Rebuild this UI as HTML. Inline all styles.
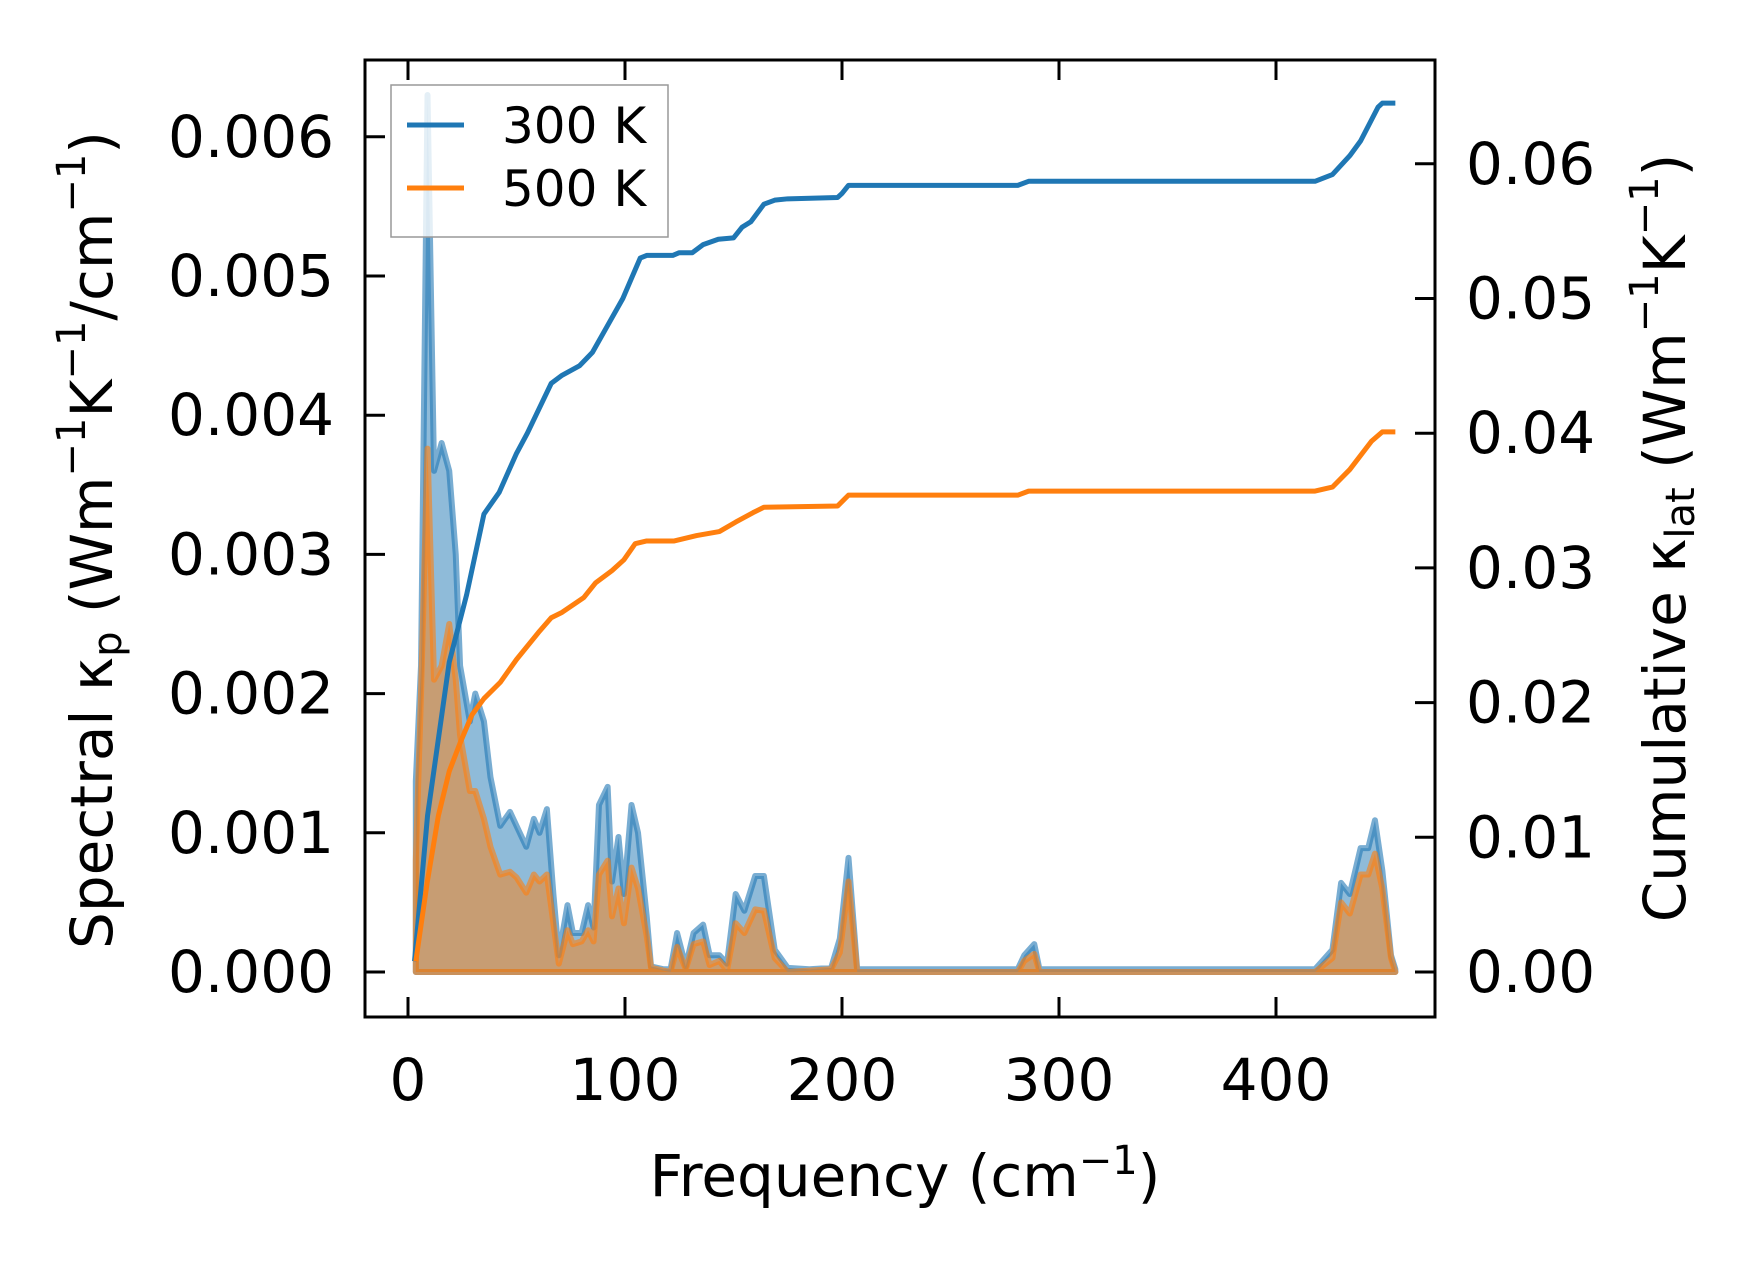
<!DOCTYPE html>
<html><head><meta charset="utf-8"><style>
html,body{margin:0;padding:0;background:#fff;}
svg{display:block;font-family:"DejaVu Sans","Liberation Sans",sans-serif;}
</style></head><body>
<svg id="chart" width="1753" height="1264" viewBox="0 0 1753 1264">
<g id="fills"></g>
<g id="lines"></g>
<rect x="365" y="60" width="1070" height="957" fill="none" stroke="#000" stroke-width="3"/>
<g id="ticks"></g>
<text x="96" y="540" transform="rotate(-90 96 540)" text-anchor="middle" dominant-baseline="middle" font-size="58">Spectral κ<tspan font-size="40" dy="14">p</tspan><tspan dy="-14"> (Wm</tspan><tspan font-size="40" dy="-22">−1</tspan><tspan dy="22">K</tspan><tspan font-size="40" dy="-22">−1</tspan><tspan dy="22">/cm</tspan><tspan font-size="40" dy="-22">−1</tspan><tspan dy="22">)</tspan></text>
<text x="1669" y="538" transform="rotate(-90 1669 538)" text-anchor="middle" dominant-baseline="middle" font-size="58">Cumulative κ<tspan font-size="40" dy="14">lat</tspan><tspan dy="-14"> (Wm</tspan><tspan font-size="40" dy="-22">−1</tspan><tspan dy="22">K</tspan><tspan font-size="40" dy="-22">−1</tspan><tspan dy="22">)</tspan></text>
<text x="905" y="1196" text-anchor="middle" font-size="58">Frequency (cm<tspan font-size="40" dy="-22">−1</tspan><tspan dy="22">)</tspan></text>
<g>
<rect x="391" y="85" width="277" height="152" fill="#fff" fill-opacity="0.8" stroke="#999" stroke-width="1.5"/>
<line x1="407" y1="125" x2="464" y2="125" stroke="#1f77b4" stroke-width="5"/>
<text x="502" y="143" font-size="50">300 K</text>
<line x1="407" y1="188" x2="464" y2="188" stroke="#ff7f0e" stroke-width="5"/>
<text x="502" y="206" font-size="50">500 K</text>
</g>
</svg>
<script>
const specFreq=[3.6,6,9,12,15.5,19,22,24,28.5,31,35,38,42.5,47,50,54.5,58,60.6,64,67,69.5,73.5,76,80,83,85.5,88,92,94,97,99.5,103,106,110,112,117.6,121,124,128,131.6,136,139,143.5,147,151,155,160,164,169,175,185,195,199,203,207,281,284,288.6,291,418,426,430,434,439,442.5,445.6,449,453,455];
const spec300=[0.00137,0.0022,0.0063,0.0036,0.0038,0.0036,0.003,0.0022,0.0018,0.002,0.0018,0.0014,0.00105,0.00115,0.00105,0.0009,0.0011,0.001,0.00117,0.00056,0.00012,0.00048,0.00028,0.00028,0.00048,0.00032,0.0012,0.00133,0.00065,0.00097,0.00056,0.0012,0.001,0.0004,0.00004,0.00002,0.00002,0.00028,0.00004,0.00028,0.00034,0.00012,0.00012,0.00006,0.00056,0.00044,0.00069,0.00069,0.00016,0.00003,0.00002,0.00003,0.00024,0.00082,0.00002,0.00002,0.00012,0.0002,0.00002,0.00002,0.00016,0.00064,0.00056,0.00089,0.00089,0.00109,0.00073,0.00012,0.00002];
const spec500=[0.0008,0.002,0.00376,0.0021,0.0022,0.0025,0.0021,0.0017,0.0013,0.0013,0.0011,0.0009,0.0007,0.00072,0.00068,0.00057,0.0007,0.00065,0.0007,0.00035,0.00006,0.0003,0.0002,0.00022,0.0003,0.00022,0.0007,0.0008,0.0004,0.0006,0.00035,0.00075,0.0006,0.00026,0.00003,0.00001,0,0.00018,0.00002,0.0002,0.00022,0.00005,0.00008,0.00001,0.00035,0.00028,0.00045,0.00044,0.0001,0,0.00001,0.00002,0.00014,0.00065,0,0,0.00008,0.00013,0,0,0.0001,0.0005,0.00042,0.0007,0.0007,0.00085,0.0006,0.0001,0];
const cumFreq300=[3,9,19,27,35,42,50,55,66,71,79,85,92,99,107,110,122,125,131,136,143,150,154,158,164,169,175,198,200,203,281,286,418,426,434,439,447,449,455];
const cum300=[0.0008,0.0116,0.023,0.028,0.034,0.0356,0.0385,0.040,0.0437,0.0443,0.045,0.046,0.048,0.050,0.053,0.0532,0.0532,0.0534,0.0534,0.054,0.0544,0.0545,0.0553,0.0557,0.057,0.0573,0.0574,0.0575,0.0578,0.0584,0.0584,0.0587,0.0587,0.0592,0.0606,0.0617,0.0642,0.0645,0.0645];
const cumFreq500=[3.6,8.8,14,19,24,29.5,35,42.5,50,60.6,66,71,81,86.5,94,99.5,104.7,110,122.7,133,143.5,151,159,164,198,203,281,286,418,426,434,444,449,455];
const cum500=[0.0008,0.0066,0.0116,0.0149,0.017,0.0191,0.0203,0.0215,0.0232,0.0253,0.0263,0.0267,0.0278,0.0289,0.0298,0.0306,0.0318,0.032,0.032,0.0324,0.0327,0.0334,0.0341,0.0345,0.0346,0.0354,0.0354,0.0357,0.0357,0.036,0.0373,0.0394,0.0401,0.0401];
const xTicks=[0,100,200,300,400];
const yLeftTicks=[0,0.001,0.002,0.003,0.004,0.005,0.006];
const yRightTicks=[0,0.01,0.02,0.03,0.04,0.05,0.06];
const xs=f=>408+f*2.17;
const yl=v=>972-v*139200;
const yr=v=>972-v*13470;
const NS='http://www.w3.org/2000/svg';
function mk(tag,attrs,parent){const e=document.createElementNS(NS,tag);for(const k in attrs)e.setAttribute(k,attrs[k]);parent.appendChild(e);return e;}
const fills=document.getElementById('fills'),lines=document.getElementById('lines'),ticks=document.getElementById('ticks');
function area(vals,color,name){
  let d='M'+xs(specFreq[0])+','+yl(0);
  vals.forEach((v,i)=>{d+=' L'+xs(specFreq[i])+','+yl(v);});
  d+=' L'+xs(specFreq[specFreq.length-1])+','+yl(0)+' Z';
  const p=mk('path',{d:d,fill:color,'fill-opacity':0.5,stroke:color,'stroke-opacity':0.6,'stroke-width':6,'stroke-linejoin':'round'},fills);
  
  
}
area(spec300,'#1f77b4','spectral-area-300k');
area(spec500,'#ff7f0e','spectral-area-500k');
function line(fr,vals,color,name){
  const pts=vals.map((v,i)=>xs(fr[i])+','+yr(v)).join(' ');
  const p=mk('polyline',{points:pts,fill:'none',stroke:color,'stroke-width':5,'stroke-linejoin':'round'},lines);
  
  
}
line(cumFreq300,cum300,'#1f77b4','cumulative-line-300k');
line(cumFreq500,cum500,'#ff7f0e','cumulative-line-500k');
xTicks.forEach(t=>{
  const x=xs(t);
  mk('line',{x1:x,y1:1017,x2:x,y2:997,stroke:'#000','stroke-width':3},ticks);
  mk('line',{x1:x,y1:60,x2:x,y2:80,stroke:'#000','stroke-width':3},ticks);
  const tx=mk('text',{x:x,y:1100,'text-anchor':'middle','font-size':58},ticks);
  tx.textContent=t;
  
  
});
yLeftTicks.forEach(t=>{
  const y=yl(t);
  mk('line',{x1:365,y1:y,x2:385,y2:y,stroke:'#000','stroke-width':3},ticks);
  const tx=mk('text',{x:334,y:y+20,'text-anchor':'end','font-size':58},ticks);
  tx.textContent=t.toFixed(3);
  
  
});
yRightTicks.forEach(t=>{
  const y=yr(t);
  mk('line',{x1:1415,y1:y,x2:1435,y2:y,stroke:'#000','stroke-width':3},ticks);
  const tx=mk('text',{x:1466,y:y+20,'text-anchor':'start','font-size':58},ticks);
  tx.textContent=t.toFixed(2);
  
  
});
</script>
</body></html>
